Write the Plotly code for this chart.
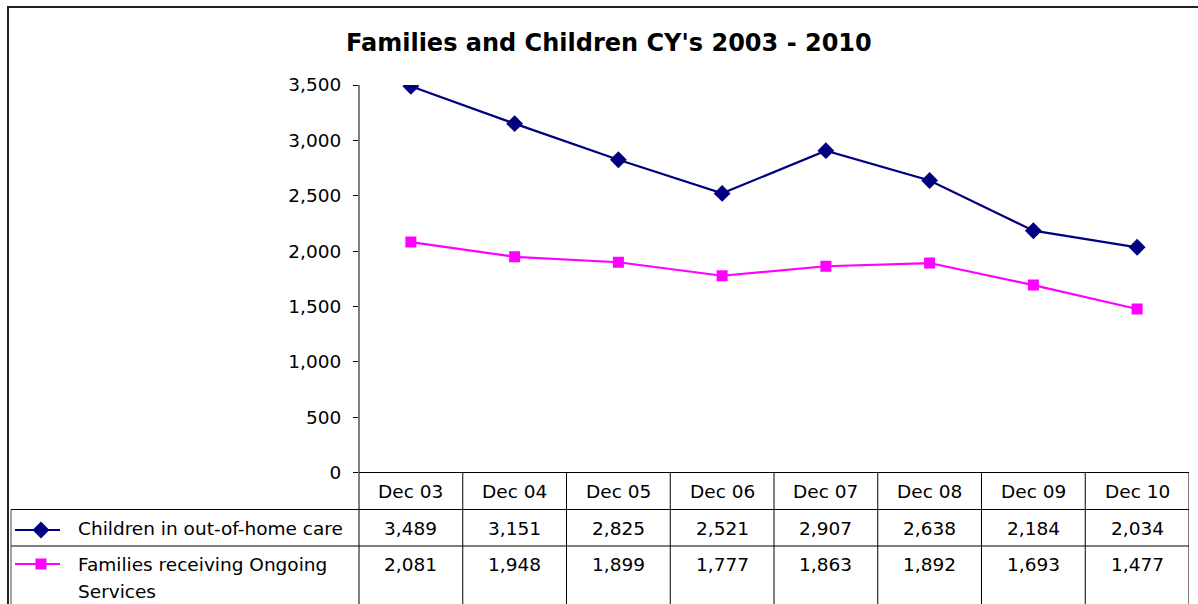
import plotly.graph_objects as go

categories = ["Dec 03", "Dec 04", "Dec 05", "Dec 06", "Dec 07", "Dec 08", "Dec 09", "Dec 10"]
children = [3489, 3151, 2825, 2521, 2907, 2638, 2184, 2034]
families = [2081, 1948, 1899, 1777, 1863, 1892, 1693, 1477]
series_names = ["Children in out-of-home care", "Families receiving Ongoing", "Services"]
title_text = "Families and Children CY's 2003 - 2010"
y_ticks = [0, 500, 1000, 1500, 2000, 2500, 3000, 3500]

W, H = 1198, 604
NAVY = "#000080"
MAGENTA = "#FF00FF"
FONT = "DejaVu Sans, Liberation Sans, Arial, sans-serif"
FS = 18.5


def px(x):
    return x / W


def py(y):
    return 1 - y / H


PLOT_L, PLOT_R = 359, 1189
PLOT_T, PLOT_B = 85, 472.5
ROW1, ROW2 = 509.5, 546

fig = go.Figure()
idx = list(range(len(categories)))
fig.add_trace(go.Scatter(x=idx, y=children, mode="lines+markers",
                         line=dict(color=NAVY, width=2.2),
                         marker=dict(symbol="diamond", size=13, color=NAVY),
                         showlegend=False, hoverinfo="skip"))
fig.add_trace(go.Scatter(x=idx, y=families, mode="lines+markers",
                         line=dict(color=MAGENTA, width=2.2),
                         marker=dict(symbol="square", size=11, color=MAGENTA),
                         showlegend=False, hoverinfo="skip"))

# legend keys in the data table (separate pixel-space axes)
for yk, col, sym, sz in [(530, NAVY, "diamond", 13), (564, MAGENTA, "square", 11)]:
    fig.add_trace(go.Scatter(x=[15, 60], y=[yk, yk], mode="lines",
                             line=dict(color=col, width=2), xaxis="x2", yaxis="y2",
                             showlegend=False, hoverinfo="skip"))
    fig.add_trace(go.Scatter(x=[41], y=[yk], mode="markers",
                             marker=dict(symbol=sym, size=sz, color=col), xaxis="x2", yaxis="y2",
                             showlegend=False, hoverinfo="skip"))

shapes = []
LC = "#000000"
# chart border
shapes.append(dict(type="line", xref="paper", yref="paper", x0=px(8), x1=px(8), y0=py(6), y1=py(604),
                   line=dict(color="#222222", width=2)))
shapes.append(dict(type="line", xref="paper", yref="paper", x0=px(7), x1=px(1198), y0=py(7), y1=py(7),
                   line=dict(color="#222222", width=2)))
# table horizontal lines
shapes.append(dict(type="line", xref="paper", yref="paper", x0=px(PLOT_L), x1=px(PLOT_R),
                   y0=py(PLOT_B), y1=py(PLOT_B), line=dict(color=LC, width=1)))
for yy in (ROW1, ROW2):
    shapes.append(dict(type="line", xref="paper", yref="paper", x0=px(11), x1=px(PLOT_R),
                       y0=py(yy), y1=py(yy), line=dict(color=LC, width=1)))
# table left border
shapes.append(dict(type="line", xref="paper", yref="paper", x0=px(11), x1=px(11),
                   y0=py(ROW1), y1=py(604), line=dict(color="#444444", width=1)))
# y axis line extending through the table
shapes.append(dict(type="line", xref="paper", yref="paper", x0=px(PLOT_L), x1=px(PLOT_L),
                   y0=py(PLOT_T), y1=py(604), line=dict(color=LC, width=1)))
# column separators
for i in range(1, len(categories) + 1):
    shapes.append(dict(type="line", xref="x", yref="paper", x0=i - 0.5, x1=i - 0.5,
                       y0=py(PLOT_B), y1=py(604), line=dict(color=LC, width=1)))

ann = []
ann.append(dict(text="<b>" + title_text + "</b>", x=px(609), y=py(43), xref="paper", yref="paper",
                showarrow=False, font=dict(family=FONT, size=24, color="black"),
                xanchor="center", yanchor="middle"))
for i, c in enumerate(categories):
    ann.append(dict(text=c, x=i, y=py(491), xref="x", yref="paper", showarrow=False,
                    font=dict(family=FONT, size=FS, color="black"), xanchor="center", yanchor="middle"))
    ann.append(dict(text=f"{children[i]:,}", x=i, y=py(528), xref="x", yref="paper", showarrow=False,
                    font=dict(family=FONT, size=FS, color="black"), xanchor="center", yanchor="middle"))
    ann.append(dict(text=f"{families[i]:,}", x=i, y=py(564), xref="x", yref="paper", showarrow=False,
                    font=dict(family=FONT, size=FS, color="black"), xanchor="center", yanchor="middle"))
for name, yy in zip(series_names, (528, 564, 591)):
    ann.append(dict(text=name, x=px(76), y=py(yy), xref="paper", yref="paper", showarrow=False,
                    font=dict(family=FONT, size=FS, color="black"), xanchor="left", yanchor="middle"))

fig.update_layout(
    template="none",
    width=W, height=H,
    margin=dict(l=0, r=0, t=0, b=0, pad=0, autoexpand=False),
    paper_bgcolor="white", plot_bgcolor="rgba(0,0,0,0)",
    xaxis=dict(domain=[px(PLOT_L), px(PLOT_R)], range=[-0.5, len(categories) - 0.5],
               showticklabels=False, showgrid=False, zeroline=False, showline=False, ticks="",
               automargin=False),
    yaxis=dict(domain=[py(PLOT_B), py(PLOT_T)], range=[0, 3500], tickvals=y_ticks,
               tickformat=",", ticks="outside", ticklen=5, tickcolor="black", tickwidth=1,
               showgrid=False, zeroline=False, showline=False, automargin=False,
               ticklabelstandoff=8,
               tickfont=dict(family=FONT, size=FS, color="black")),
    xaxis2=dict(domain=[0, 1], range=[0, W], visible=False, anchor="y2", automargin=False),
    yaxis2=dict(domain=[0, 1], range=[H, 0], visible=False, anchor="x2", automargin=False),
    shapes=shapes,
    annotations=ann,
)

fig.write_html("out.html", config={"displayModeBar": False, "staticPlot": True},
               post_script="document.body.style.margin='0';document.body.style.overflow='hidden';")
